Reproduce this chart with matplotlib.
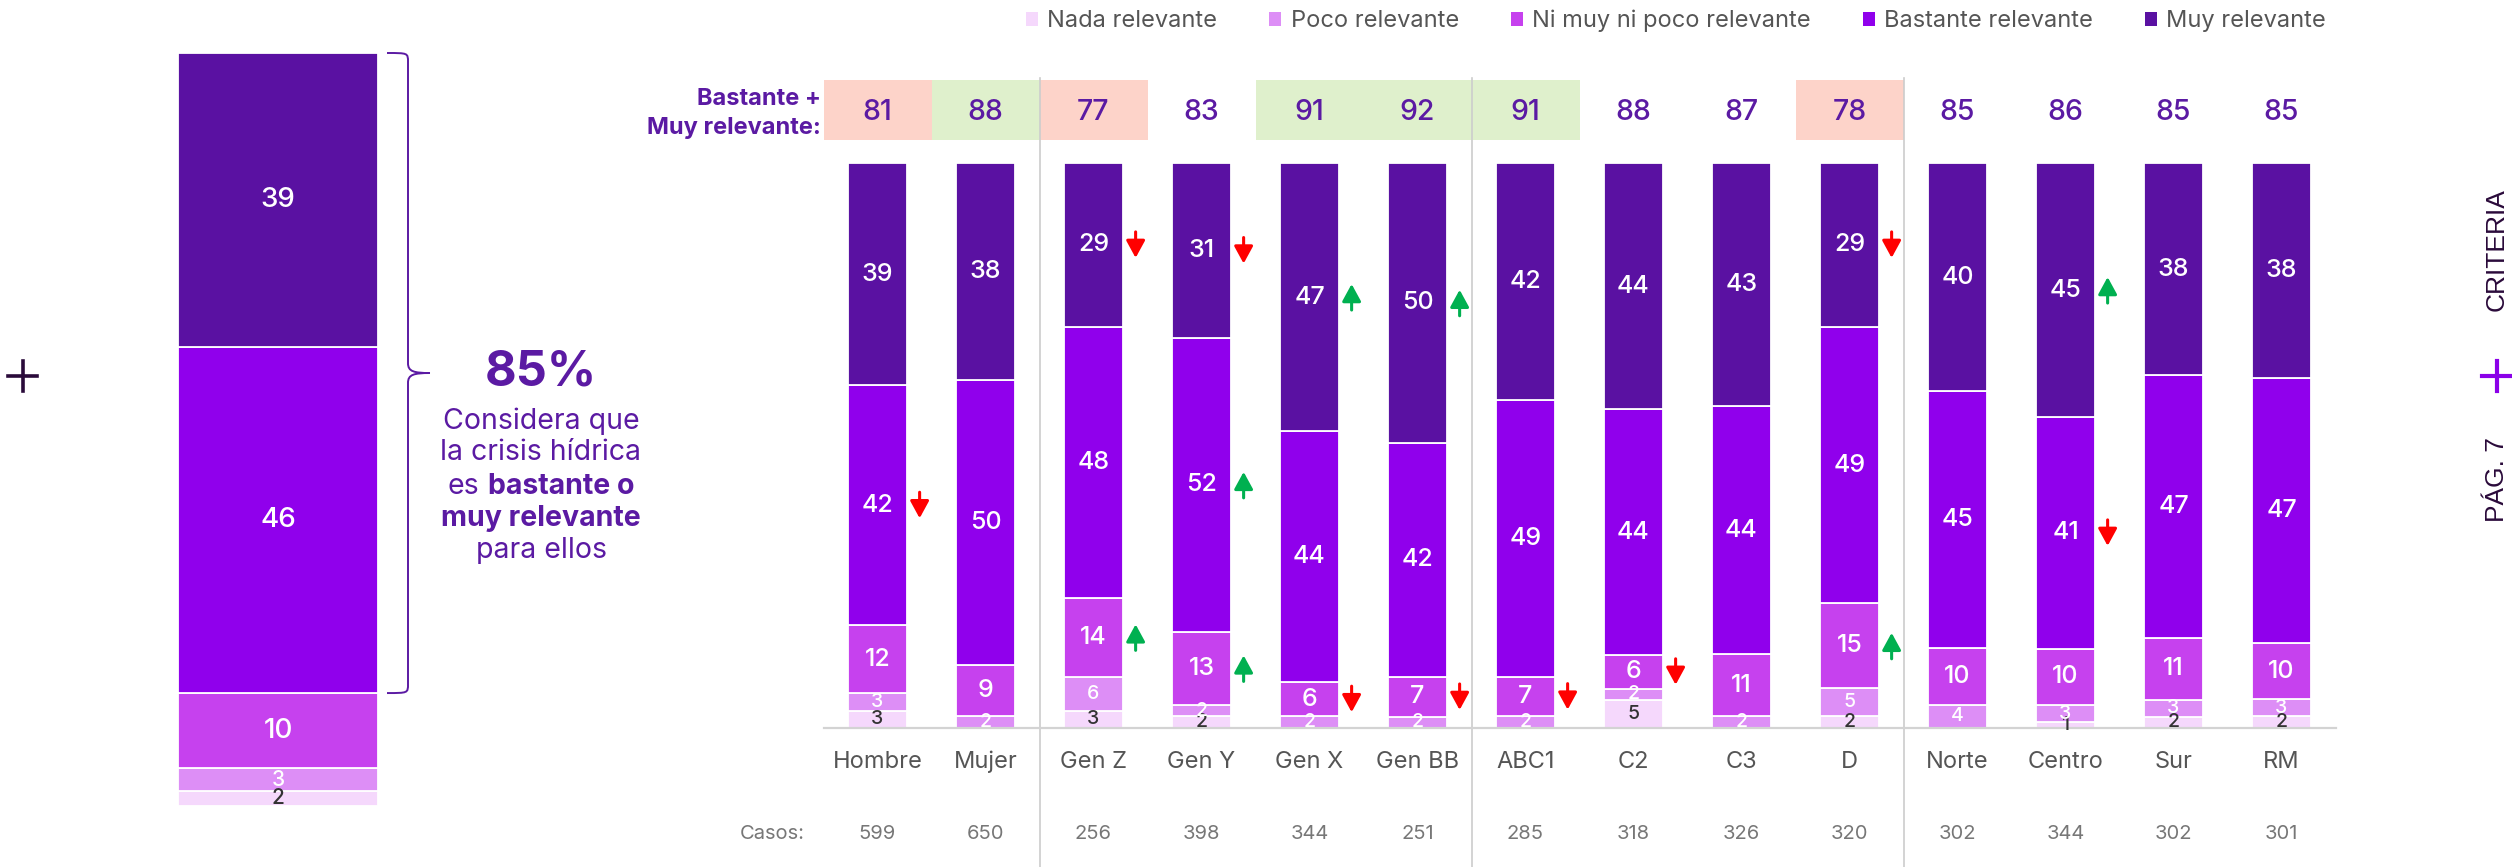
import matplotlib
matplotlib.use("Agg")
import matplotlib.pyplot as plt
import matplotlib.transforms as mtransforms
from matplotlib.patches import Rectangle, PathPatch, Patch
from matplotlib.path import Path

# ---------------- DATA ----------------
categories = ['Hombre', 'Mujer', 'Gen Z', 'Gen Y', 'Gen X', 'Gen BB', 'ABC1',
              'C2', 'C3', 'D', 'Norte', 'Centro', 'Sur', 'RM']
casos = [599, 650, 256, 398, 344, 251, 285, 318, 326, 320, 302, 344, 302, 301]
top2 = [81, 88, 77, 83, 91, 92, 91, 88, 87, 78, 85, 86, 85, 85]
top2_sig = ['down', 'up', 'down', '', 'up', 'up', 'up', '', '', 'down', '', '', '', '']

muy = [39, 38, 29, 31, 47, 50, 42, 44, 43, 29, 40, 45, 38, 38]
bastante = [42, 50, 48, 52, 44, 42, 49, 44, 44, 49, 45, 41, 47, 47]
ni = [12, 9, 14, 13, 6, 7, 7, 6, 11, 15, 10, 10, 11, 10]
poco = [3, 2, 6, 2, 2, 2, 2, 2, 2, 5, 4, 3, 3, 3]
nada = [3, 0, 3, 2, 0, 0, 0, 5, 0, 2, 0, 1, 2, 2]

sig_muy = ['', '', 'down', 'down', 'up', 'up', '', '', '', 'down', '', 'up', '', '']
sig_bastante = ['down', '', '', 'up', '', '', '', '', '', '', '', 'down', '', '']
sig_ni = ['', '', 'up', 'up', 'down', 'down', 'down', 'down', '', 'up', '', '', '', '']

series_names = ['Nada relevante', 'Poco relevante', 'Ni muy ni poco relevante',
                'Bastante relevante', 'Muy relevante']
total_values = [2, 3, 10, 46, 39]   # Nada, Poco, Ni, Bastante, Muy
total_top2 = 85
group_breaks = [1.5, 5.5, 9.5]

# ---------------- STYLE ----------------
colors = ['#F5D8FC', '#DD8EF6', '#C641EE', '#9000EC', '#5A11A2']
label_colors = ['#333333', 'white', 'white', 'white', 'white']
PURPLE_TXT = '#5B1AA3'
DARK_TXT = '#2A0A3A'
RED = '#FF0000'
GREEN = '#00B050'
PINK_BOX = '#FDD3C9'
GREEN_BOX = '#DFF0CC'

plt.rcParams['font.family'] = ['Inter', 'DejaVu Sans']

W, H = 2512, 867
fig = plt.figure(figsize=(W / 100, H / 100), dpi=100)
fig.patch.set_facecolor('white')
pxT = mtransforms.Affine2D().scale(1, -1).translate(0, H)

# ---------------- LEFT TOTAL BAR ----------------
axl = fig.add_axes([178 / W, (H - 806) / H, 200 / W, (806 - 53) / H])
axl.set_xlim(-0.5, 0.5)
axl.set_ylim(0, 100)
axl.axis('off')
bottom = 0
tsum = sum(total_values)
for k, v in enumerate(total_values):
    h = v / tsum * 100
    axl.bar(0, h, bottom=bottom, width=1.0, color=colors[k],
            edgecolor='white', linewidth=1.3)
    small = k < 2
    axl.text(0, bottom + h / 2, str(v), ha='center', va='center',
             color=label_colors[k], fontsize=15 if small else 20,
             fontweight='medium', clip_on=False)
    bottom += h

# brace over Bastante + Muy
y_top = 100.0
y_bot = sum(total_values[:3]) / tsum * 100
y_mid = (y_top + y_bot) / 2
x0, x1, xt = 0.545, 0.65, 0.76
verts = [(x0, y_top), (x1, y_top), (x1, y_top), (x1, y_top - 1.2),
         (x1, y_mid + 1.3),
         (x1, y_mid + 0.2), (x1 + 0.03, y_mid), (xt, y_mid),
         (x1 + 0.03, y_mid), (x1, y_mid - 0.2), (x1, y_mid - 1.3),
         (x1, y_bot + 1.2),
         (x1, y_bot), (x1, y_bot), (x0, y_bot)]
codes = [Path.MOVETO, Path.CURVE4, Path.CURVE4, Path.CURVE4,
         Path.LINETO,
         Path.CURVE4, Path.CURVE4, Path.CURVE4,
         Path.CURVE4, Path.CURVE4, Path.CURVE4,
         Path.LINETO,
         Path.CURVE4, Path.CURVE4, Path.CURVE4]
axl.add_patch(PathPatch(Path(verts, codes), fill=False, edgecolor=PURPLE_TXT,
                        linewidth=1.4, clip_on=False))

# 85% text block
cx = 541
fig.text(cx, 373, f'{total_top2}%', transform=pxT, ha='center', va='center',
         fontsize=35, fontweight='bold', color=PURPLE_TXT)
fs = 20.5
fig.text(cx, 421, 'Considera que', transform=pxT, ha='center', va='center',
         fontsize=fs, color=PURPLE_TXT)
fig.text(cx, 453, 'la crisis hídrica', transform=pxT, ha='center', va='center',
         fontsize=fs, color=PURPLE_TXT)
ta = fig.text(0, 486, 'es', transform=pxT, ha='left', va='center',
              fontsize=fs, color=PURPLE_TXT)
tb = fig.text(0, 486, 'bastante o', transform=pxT, ha='left', va='center',
              fontsize=fs, fontweight='bold', color=PURPLE_TXT)
renderer = fig.canvas.get_renderer()
wa = ta.get_window_extent(renderer).width
wb = tb.get_window_extent(renderer).width
gap = 8
start = cx - (wa + gap + wb) / 2
ta.set_x(start)
tb.set_x(start + wa + gap)
fig.text(cx, 518, 'muy relevante', transform=pxT, ha='center', va='center',
         fontsize=fs, fontweight='bold', color=PURPLE_TXT)
fig.text(cx, 550, 'para ellos', transform=pxT, ha='center', va='center',
         fontsize=fs, color=PURPLE_TXT)

# left "+"
fig.add_artist(plt.Line2D([8, 37], [376, 376], transform=pxT, color=DARK_TXT, lw=2.6))
fig.add_artist(plt.Line2D([22.5, 22.5], [361, 391], transform=pxT, color=DARK_TXT, lw=2.6))

# ---------------- RIGHT CHART ----------------
AX_BOTTOM_PX, AX_H_PX = 727.7, 564.7
ax = fig.add_axes([823.5 / W, (H - AX_BOTTOM_PX) / H, 1512 / W, AX_H_PX / H])
ax.set_xlim(-0.5, len(categories) - 0.5)
ax.set_ylim(0, 100)
for s in ['top', 'right', 'left']:
    ax.spines[s].set_visible(False)
ax.spines['bottom'].set_color('#D3D3D3')
ax.spines['bottom'].set_linewidth(1.6)
ax.spines['bottom'].set_zorder(5)
ax.set_yticks([])
ax.set_xticks([])
ax.patch.set_alpha(0)

blend = mtransforms.blended_transform_factory(ax.transData, ax.transAxes)


def ay(py):
    return (AX_BOTTOM_PX - py) / AX_H_PX


stack = [nada, poco, ni, bastante, muy]
sigs = [None, None, sig_ni, sig_bastante, sig_muy]
n = len(categories)
bar_w = 0.54
bottoms = [0.0] * n
for k, vals in enumerate(stack):
    for i in range(n):
        tot = nada[i] + poco[i] + ni[i] + bastante[i] + muy[i]
        h = vals[i] / tot * 100
        if h <= 0:
            continue
        ax.bar(i, h, bottom=bottoms[i], width=bar_w, color=colors[k],
               edgecolor='white', linewidth=1.3, zorder=2)
        c = bottoms[i] + h / 2
        small = k < 2
        ax.text(i, c, str(vals[i]), ha='center', va='center',
                color=label_colors[k], fontsize=14 if small else 18,
                fontweight='medium', zorder=6, clip_on=False)
        if sigs[k] is not None and sigs[k][i]:
            d = sigs[k][i]
            col = GREEN if d == 'up' else RED
            half = 2.3
            if d == 'up':
                start_y, end_y = c - half, c + half
            else:
                start_y, end_y = c + half, c - half
            ax.annotate('', xy=(i + 0.39, end_y), xytext=(i + 0.39, start_y),
                        arrowprops=dict(arrowstyle='-|>,head_length=0.55,head_width=0.3',
                                        color=col, lw=2.2, shrinkA=0, shrinkB=0,
                                        mutation_scale=19),
                        annotation_clip=False, zorder=6)
        bottoms[i] += h

# top2 boxes and numbers
for i in range(n):
    if top2_sig[i]:
        col = GREEN_BOX if top2_sig[i] == 'up' else PINK_BOX
        ax.add_patch(Rectangle((i - 0.5, ay(140)), 1.0, ay(80) - ay(140),
                               transform=blend, facecolor=col, edgecolor='none',
                               clip_on=False, zorder=1))
    ax.text(i, ay(112), str(top2[i]), transform=blend, ha='center', va='center',
            fontsize=20.5, fontweight='medium', color=PURPLE_TXT)

ax.text(-0.525, ay(99), 'Bastante +', transform=blend, ha='right', va='center',
        fontsize=17, fontweight='bold', color=PURPLE_TXT)
ax.text(-0.525, ay(128), 'Muy relevante:', transform=blend, ha='right', va='center',
        fontsize=17, fontweight='bold', color=PURPLE_TXT)

# group separators
for xb in group_breaks:
    ax.plot([xb, xb], [ay(78), ay(867)], transform=blend, color='#CCCCCC',
            lw=1.2, clip_on=False, zorder=3)

# category labels and cases
for i in range(n):
    ax.text(i, ay(762), categories[i], transform=blend, ha='center', va='center',
            fontsize=17, color='#555555')
    ax.text(i, ay(834), str(casos[i]), transform=blend, ha='center', va='center',
            fontsize=14.5, color='#777777')
ax.text(-0.67, ay(834), 'Casos:', transform=blend, ha='right', va='center',
        fontsize=14.5, color='#777777')

# legend
handles = [Patch(facecolor=c, edgecolor='none') for c in colors]
fig.legend(handles, series_names, loc='center', bbox_to_anchor=(1676 / W, 1 - 21 / H),
           ncol=5, frameon=False, fontsize=17, handlelength=0.5, handleheight=0.5,
           handletextpad=0.4, columnspacing=2.2, labelcolor='#555555')

# right side footer
fig.text(2497, 250, 'CRITERIA', transform=pxT, rotation=90, ha='center', va='center',
         fontsize=19, color=DARK_TXT, family=['Liberation Sans', 'DejaVu Sans'])
fig.text(2497, 480, 'PÁG. 7', transform=pxT, rotation=90, ha='center', va='center',
         fontsize=19, color=DARK_TXT, family=['Liberation Sans', 'DejaVu Sans'])
fig.add_artist(plt.Line2D([2482, 2511], [376, 376], transform=pxT, color='#8B00E8', lw=3))
fig.add_artist(plt.Line2D([2496.5, 2496.5], [361, 391], transform=pxT, color='#8B00E8', lw=3))

fig.savefig('out.png', dpi=100, facecolor='white')
